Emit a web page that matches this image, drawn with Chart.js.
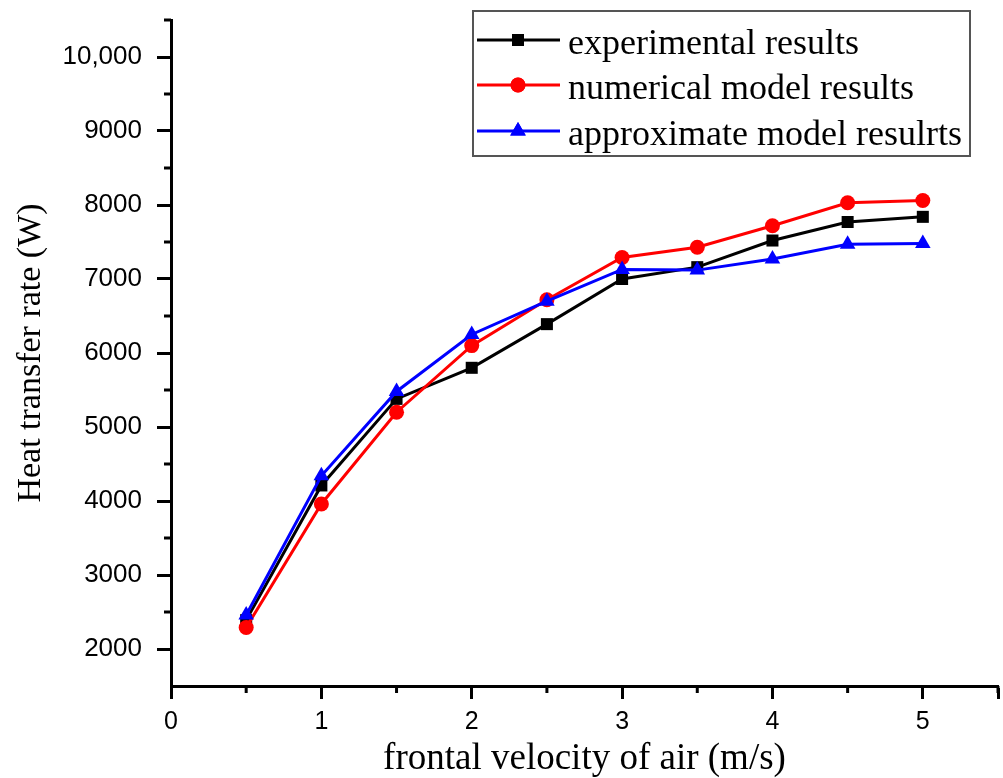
<!DOCTYPE html>
<html>
<head>
<meta charset="utf-8">
<script src="https://cdn.jsdelivr.net/npm/chart.js@4/dist/chart.umd.min.js"></script>
<style>
  html, body { margin: 0; padding: 0; background: #fff; }
  #wrap { width: 1003px; height: 778px; }
</style>
</head>
<body>
<div id="wrap"><canvas id="myChart" width="1003" height="778"></canvas></div>
<script>
// frontal velocity of air (m/s)
const velocity = [0.5, 1, 1.5, 2, 2.5, 3, 3.5, 4, 4.5, 5];

// heat transfer rate (W)
const experimental = [2390, 4210, 5380, 5800, 6390, 7000, 7160, 7520, 7770, 7840];
const numerical = [2290, 3960, 5200, 6100, 6720, 7290, 7430, 7720, 8030, 8060];
const approximate = [2460, 4340, 5480, 6250, 6700, 7130, 7120, 7270, 7470, 7480];

const seriesNames = [
  "experimental results",
  "numerical model results",
  "approximate model resulrts",
];

const xTickLabels = ["0", "1", "2", "3", "4", "5"];
const yTickLabels = ["2000", "3000", "4000", "5000", "6000", "7000", "8000", "9000", "10,000"];

const serif = "'Liberation Serif', 'Times New Roman', serif";
const sans = "'Liberation Sans', Arial, sans-serif";

function toPoints(ys) {
  return velocity.map((x, i) => ({ x: x, y: ys[i] }));
}

// minor ticks (half steps), shorter than the major ones
const minorTicks = {
  id: "minorTicks",
  afterDraw(chart) {
    const ctx = chart.ctx;
    const xs = chart.scales.x;
    const ys = chart.scales.y;
    ctx.save();
    ctx.strokeStyle = "#000";
    ctx.lineWidth = 3;
    for (let v = 0.5; v <= 5.5; v += 1) {
      const px = xs.getPixelForValue(v);
      ctx.beginPath();
      ctx.moveTo(px, xs.top);
      ctx.lineTo(px, xs.top + 7);
      ctx.stroke();
    }
    for (let v = 2500; v <= 10500; v += 1000) {
      const py = ys.getPixelForValue(v);
      ctx.beginPath();
      ctx.moveTo(ys.right, py);
      ctx.lineTo(ys.right - 7, py);
      ctx.stroke();
    }
    ctx.restore();
  },
};

// boxed legend with line + marker samples
const boxLegend = {
  id: "boxLegend",
  afterDraw(chart) {
    const ctx = chart.ctx;
    const left = 473, top = 11, right = 970, bottom = 156;
    ctx.save();
    ctx.fillStyle = "#fff";
    ctx.fillRect(left, top, right - left, bottom - top);
    ctx.strokeStyle = "#555";
    ctx.lineWidth = 2;
    ctx.strokeRect(left, top, right - left, bottom - top);
    const rows = [40, 85, 131];
    chart.data.datasets.forEach((ds, i) => {
      const y = rows[i];
      ctx.strokeStyle = ds.borderColor;
      ctx.lineWidth = 3;
      ctx.beginPath();
      ctx.moveTo(477, y);
      ctx.lineTo(560, y);
      ctx.stroke();
      ctx.fillStyle = ds.backgroundColor;
      Chart.helpers.drawPoint(ctx, {
        pointStyle: ds.pointStyle,
        radius: ds.pointRadius,
        borderWidth: 0,
        rotation: 0,
      }, 518, y);
      ctx.fill();
      ctx.fillStyle = "#000";
      ctx.font = "36px " + serif;
      ctx.textBaseline = "alphabetic";
      ctx.fillText(seriesNames[i], 568, y + 14);
    });
    ctx.restore();
  },
};

const ctx = document.getElementById("myChart").getContext("2d");
const myChart = new Chart(ctx, {
  type: "line",
  data: {
    datasets: [
      {
        label: seriesNames[0],
        data: toPoints(experimental),
        borderColor: "#000000",
        backgroundColor: "#000000",
        pointStyle: "rect",
        pointRadius: 8.5,
        borderWidth: 3,
        pointBorderWidth: 0,
        order: 2,
      },
      {
        label: seriesNames[1],
        data: toPoints(numerical),
        borderColor: "#ff0000",
        backgroundColor: "#ff0000",
        pointStyle: "circle",
        pointRadius: 7.5,
        borderWidth: 3,
        pointBorderWidth: 0,
        order: 1,
      },
      {
        label: seriesNames[2],
        data: toPoints(approximate),
        borderColor: "#0000ff",
        backgroundColor: "#0000ff",
        pointStyle: "triangle",
        pointRadius: 9,
        borderWidth: 3,
        pointBorderWidth: 0,
        order: 0,
      },
    ],
  },
  options: {
    responsive: false,
    animation: false,
    layout: {
      autoPadding: false,
      padding: { top: 20, right: 5, left: 0, bottom: 0 },
    },
    plugins: {
      legend: { display: false },
      tooltip: { enabled: false },
    },
    scales: {
      x: {
        type: "linear",
        min: 0,
        max: 5.5,
        afterFit: (s) => {
          s.height = 92;
          s.paddingLeft = 0;
          s.paddingRight = 0;
        },
        border: { color: "#000", width: 3 },
        grid: {
          drawOnChartArea: false,
          tickLength: 13,
          tickWidth: 3,
          tickColor: "#000",
        },
        ticks: {
          stepSize: 1,
          padding: 8,
          color: "#000",
          font: { family: sans, size: 25 },
          callback: (v) => (Number.isInteger(v) ? xTickLabels[v] : ""),
        },
        title: {
          display: true,
          text: "frontal velocity of air (m/s)",
          color: "#000",
          font: { family: serif, size: 37, lineHeight: 1 },
          padding: { top: 0, bottom: 0 },
        },
      },
      y: {
        min: 1500,
        max: 10500,
        afterFit: (s) => {
          s.width = 171;
          s.paddingTop = 0;
          s.paddingBottom = 0;
        },
        afterBuildTicks: (s) => {
          s.ticks = yTickLabels.map((t, i) => ({ value: 2000 + i * 1000 }));
        },
        border: { color: "#000", width: 3 },
        grid: {
          drawOnChartArea: false,
          tickLength: 14,
          tickWidth: 3,
          tickColor: "#000",
        },
        ticks: {
          padding: 15,
          color: "#000",
          font: { family: sans, size: 26 },
          callback: (v) => yTickLabels[(v - 2000) / 1000],
        },
        title: {
          display: true,
          text: "Heat transfer rate (W)",
          color: "#000",
          font: { family: serif, size: 34, lineHeight: 1 },
          padding: { top: 14, bottom: 0 },
        },
      },
    },
  },
  plugins: [minorTicks, boxLegend],
});
</script>
</body>
</html>
